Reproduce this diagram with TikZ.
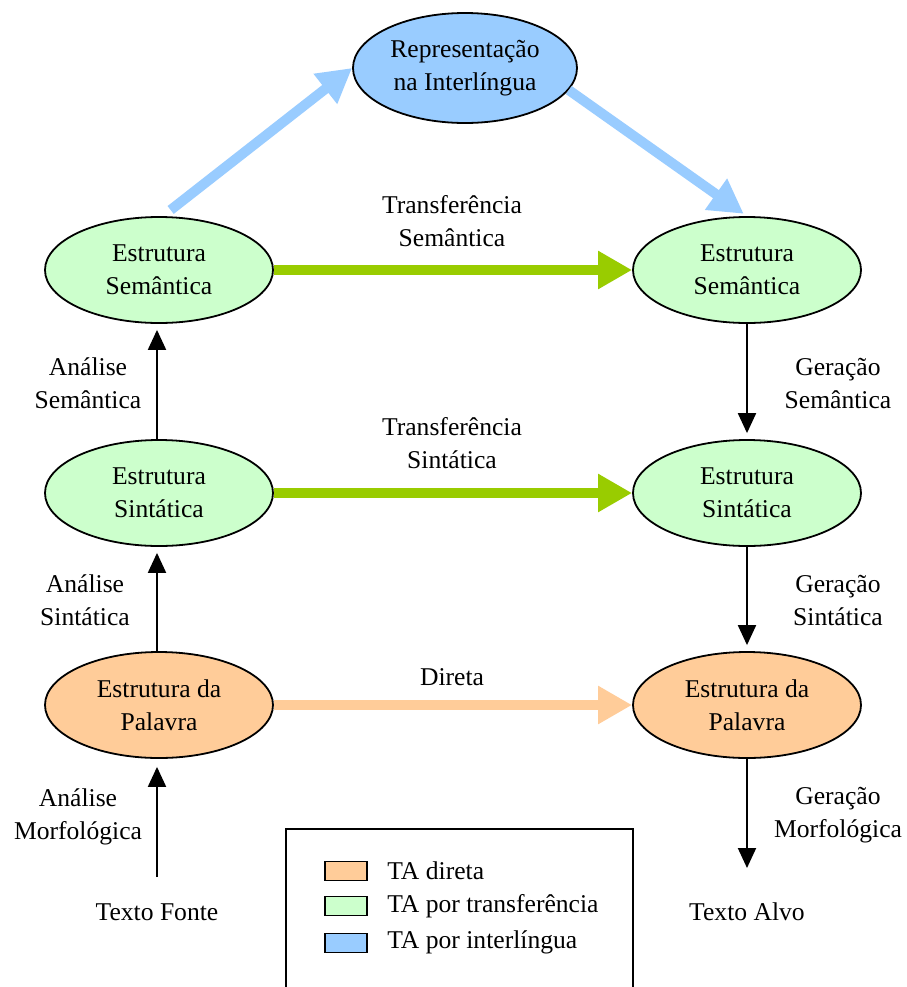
\documentclass[tikz,border=0pt]{standalone}
\usepackage{fontspec}
\setmainfont{LiberationSerif}[Extension=.ttf, UprightFont=*-Regular, BoldFont=*-Bold, ItalicFont=*-Italic]
\usetikzlibrary{arrows.meta,shapes.geometric}
\definecolor{orangefill}{HTML}{FFCC99}
\definecolor{greenfill}{HTML}{CCFFCC}
\definecolor{bluefill}{HTML}{99CCFF}
\definecolor{greenarrow}{HTML}{99CC00}
\begin{document}
\begin{tikzpicture}[x=0.5bp,y=-0.5bp,
  every node/.style={font=\fontsize{12.8bp}{16.5bp}\selectfont, align=center},
  stage/.style={ellipse, draw=black, line width=0.9bp, minimum width=114bp, minimum height=53bp, inner sep=0pt},
  label/.style={inner sep=0pt},
  step arrow/.style={draw=black, line width=1bp, -{Triangle[length=10bp,width=9bp]}},
  wide arrow/.style={line width=5bp, -{Triangle[length=17bp,width=18bp]}},
  swatch/.style={draw=black, line width=0.9bp, minimum width=21bp, minimum height=9.5bp, inner sep=0pt}
]
\useasboundingbox (0,0) rectangle (907,987);
\fill[white] (0,0) rectangle (907,987);

% interlingua
\node[stage, fill=bluefill, minimum width=112bp, minimum height=55bp] (inter) at (465,68) {Representação\\na Interlíngua};

% source side
\node[stage, fill=greenfill] (semL) at (159,270) {Estrutura\\Semântica};
\node[stage, fill=greenfill] (sinL) at (159,493) {Estrutura\\Sintática};
\node[stage, fill=orangefill] (palL) at (159,705) {Estrutura da\\Palavra};
\node[label] (fonte) at (157,912) {Texto Fonte};

% target side
\node[stage, fill=greenfill] (semR) at (747,270) {Estrutura\\Semântica};
\node[stage, fill=greenfill] (sinR) at (747,493) {Estrutura\\Sintática};
\node[stage, fill=orangefill] (palR) at (747,705) {Estrutura da\\Palavra};
\node[label] (alvo) at (747,912) {Texto Alvo};

% transfer arrows
\draw[wide arrow, draw=greenarrow, fill=greenarrow] (semL.east) -- (semR.west);
\draw[wide arrow, draw=greenarrow, fill=greenarrow] (sinL.east) -- (sinR.west);
\draw[wide arrow, draw=orangefill, fill=orangefill] (palL.east) -- (palR.west);
\draw[wide arrow, draw=bluefill, fill=bluefill, shorten <=5bp] (semL.86) -- (inter.west);
\draw[wide arrow, draw=bluefill, fill=bluefill, shorten >=2bp] (inter.-12) -- (semR.north);

\node[label] (tsem) at (452,221) {Transferência\\Semântica};
\node[label] (tsin) at (452,443) {Transferência\\Sintática};
\node[label] (dir) at (452,677) {Direta};

% analysis arrows
\coordinate (fonteTop) at (157,877);
\draw[step arrow, shorten >=4bp] (fonteTop) -- (fonteTop |- palL.south);
\draw[step arrow, shorten >=3bp] (palL.north -| fonteTop) -- (fonteTop |- sinL.south);
\draw[step arrow, shorten >=3bp] (sinL.north -| fonteTop) -- (fonteTop |- semL.south);

\node[label] (aMor) at (78,817) {Análise\\Morfológica};
\node[label] (aSin) at (85,600) {Análise\\Sintática};
\node[label] (aSem) at (88,383) {Análise\\Semântica};

% generation arrows
\coordinate (alvoTop) at (747,868);
\draw[step arrow, shorten >=3bp] (semR.south) -- (sinR.north);
\draw[step arrow, shorten >=3bp] (sinR.south) -- (palR.north);
\draw[step arrow] (palR.south) -- (alvoTop);

\node[label] (gSem) at (838,383) {Geração\\Semântica};
\node[label] (gSin) at (838,600) {Geração\\Sintática};
\node[label] (gMor) at (838,815) {Geração\\Morfológica};

% legend
\draw[line width=1bp] (286,1000) -- (286,829) -- (633,829) -- (633,1000);
\node[swatch, fill=orangefill] (sw1) at (346,871) {};
\node[swatch, fill=greenfill] (sw2) at (346,906) {};
\node[swatch, fill=bluefill] (sw3) at (346,943) {};
\node[label, anchor=west] (l1) at (387,871) {TA direta};
\node[label, anchor=west] (l2) at (387,906) {TA por transferência};
\node[label, anchor=west] (l3) at (387,942) {TA por interlíngua};
\end{tikzpicture}
\end{document}
